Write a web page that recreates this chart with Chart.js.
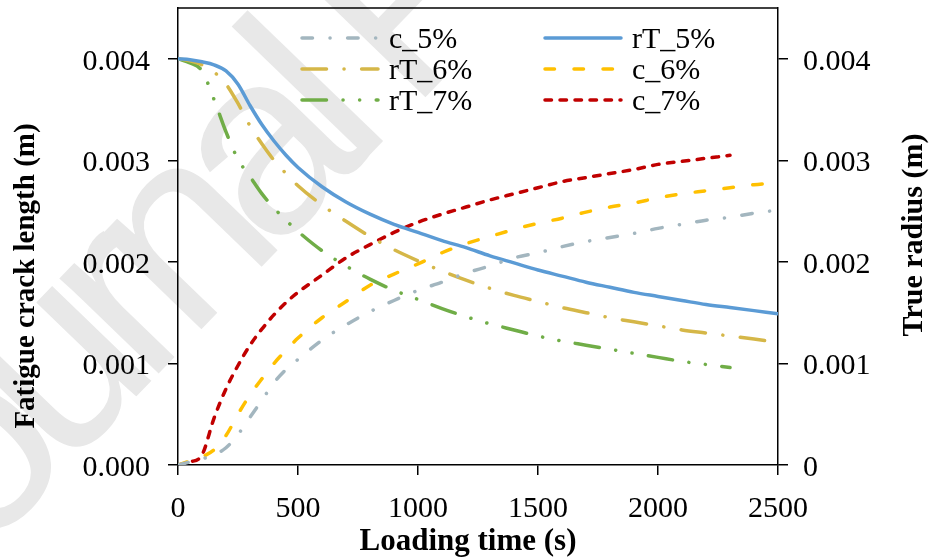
<!DOCTYPE html>
<html>
<head>
<meta charset="utf-8">
<script src="https://cdn.jsdelivr.net/npm/chart.js@4.4.0/dist/chart.umd.min.js"></script>
<style>
  html, body { margin: 0; padding: 0; background: #fff; }
  #wrap { width: 930px; height: 559px; }
</style>
</head>
<body>
<div id="wrap"><canvas id="chart" width="930" height="559"></canvas></div>
<script>
// loading time (s), shared by all series
const times = [0, 50, 100, 150, 200, 250, 300, 350, 400, 450, 500, 600, 700, 800, 900, 1000,
  1100, 1200, 1300, 1400, 1500, 1600, 1700, 1800, 1900, 2000, 2100, 2200, 2300, 2400, 2500];

const c5 = [0, 0.00003, 0.00006, 0.0001, 0.00017, 0.0003, 0.00047, 0.00064, 0.00081, 0.00094, 0.00104,
  0.00123, 0.00138, 0.00151, 0.00162, 0.00172, 0.0018, 0.00189, 0.00196, 0.00204, 0.00209,
  0.00215, 0.0022, 0.00224, 0.00228, 0.00233, 0.00237, 0.00241, 0.00244, 0.00248, 0.00251];
const rT5 = [0.004, 0.00399, 0.00397, 0.00394, 0.00388, 0.00375, 0.00354, 0.00335, 0.00319, 0.00305, 0.00293,
  0.00274, 0.00259, 0.00247, 0.00237, 0.00229, 0.00221, 0.00214, 0.00206, 0.00199, 0.00192,
  0.00186, 0.0018, 0.00175, 0.0017, 0.00166, 0.00162, 0.00158, 0.00155, 0.00152, 0.00149];
const rT6 = [0.004, 0.00398, 0.00394, 0.00387, 0.00375, 0.00356, 0.00334, 0.00316, 0.003, 0.00287, 0.00275,
  0.00256, 0.0024, 0.00225, 0.00212, 0.00201, 0.00191, 0.00182, 0.00174, 0.00167, 0.00161,
  0.00155, 0.0015, 0.00145, 0.00141, 0.00137, 0.00133, 0.0013, 0.00127, 0.00124, 0.00121];
const c6 = [0, 0.00004, 0.00008, 0.00015, 0.00029, 0.0005, 0.00069, 0.00085, 0.001, 0.00113, 0.00125,
  0.00145, 0.00161, 0.00177, 0.00188, 0.00198, 0.00209, 0.00218, 0.00225, 0.00232, 0.00238,
  0.00243, 0.00249, 0.00254, 0.00258, 0.00263, 0.00267, 0.0027, 0.00273, 0.00276, 0.00278];
const rT7 = [0.004, 0.00396, 0.00388, 0.0036, 0.00328, 0.00301, 0.00284, 0.00267, 0.00253, 0.00241, 0.0023,
  0.00211, 0.00196, 0.00183, 0.00172, 0.00163, 0.00154, 0.00146, 0.00139, 0.00133, 0.00127,
  0.00122, 0.00118, 0.00114, 0.0011, 0.00106, 0.00102, 0.00099, 0.00096, null, null];
const c7 = [0, 0.00003, 0.0001, 0.00046, 0.00075, 0.00098, 0.00118, 0.00134, 0.00148, 0.0016, 0.0017,
  0.00187, 0.00204, 0.00217, 0.00229, 0.00239, 0.00247, 0.00254, 0.00261, 0.00267, 0.00273,
  0.00279, 0.00283, 0.00287, 0.00291, 0.00296, 0.00299, 0.00302, 0.00305, null, null];

const xTicks = [0, 500, 1000, 1500, 2000, 2500];
const yTicks = [0, 0.001, 0.002, 0.003, 0.004];
const yLabelsLeft = ['0.000', '0.001', '0.002', '0.003', '0.004'];
const yLabelsRight = ['0', '0.001', '0.002', '0.003', '0.004'];

const SERIF = '"Liberation Serif", "Times New Roman", serif';

function pts(vals) {
  const out = [];
  vals.forEach((v, i) => { if (v !== null) out.push({ x: times[i], y: v }); });
  return out;
}

function line(label, vals, color, dash) {
  return {
    label: label,
    data: pts(vals),
    borderColor: color,
    borderWidth: 3.5,
    borderDash: dash,
    borderCapStyle: 'round',
    pointRadius: 0,
    fill: false,
    cubicInterpolationMode: 'monotone',
    yAxisID: 'y'
  };
}

// order = legend order (two columns, row by row)
const datasets = [
  line('c_5%', c5, '#a3b6bf', [10.5, 17.5, 0.1, 17.5]),
  line('rT_5%', rT5, '#5b9bd5', []),
  line('rT_6%', rT6, '#d5b748', [24.5, 17.5, 0.1, 17.5]),
  line('c_6%', c6, '#ffc000', [9.5, 19.5]),
  line('rT_7%', rT7, '#70ad47', [24.5, 16.5, 0.1, 16.5, 0.1, 16.5]),
  line('c_7%', c7, '#c00000', [6.5, 8.5])
];

// faint "Journal Pre-proof" stamp behind the plot
const watermark = {
  id: 'watermark',
  beforeDraw(chart) {
    const ctx = chart.ctx;
    ctx.save();
    ctx.fillStyle = '#fff';
    ctx.fillRect(0, 0, chart.width, chart.height);
    ctx.translate(-93, 634);
    ctx.rotate(-46 * Math.PI / 180);
    ctx.font = '260px "Liberation Sans", Arial, sans-serif';
    ctx.letterSpacing = '-25px';
    ctx.fillStyle = '#e8e8e8';
    ctx.textBaseline = 'alphabetic';
    ctx.fillText('Journal Pre-proof', 0, 0);
    ctx.restore();
  }
};

// frame top edge, legend, axis titles
const decor = {
  id: 'decor',
  afterDraw(chart) {
    const ctx = chart.ctx;
    const a = chart.chartArea;
    ctx.save();
    ctx.strokeStyle = '#000';
    ctx.lineWidth = 1.5;
    ctx.beginPath();
    ctx.moveTo(a.left, a.top);
    ctx.lineTo(a.right, a.top);
    ctx.stroke();

    // legend
    const colLine = [302, 545];
    const rowY = [38, 69, 100];
    ctx.font = '30px ' + SERIF;
    ctx.textBaseline = 'middle';
    ctx.fillStyle = '#000';
    chart.data.datasets.forEach((ds, i) => {
      const x0 = colLine[i % 2];
      const y = rowY[Math.floor(i / 2)];
      ctx.save();
      ctx.strokeStyle = ds.borderColor;
      ctx.lineWidth = ds.borderWidth;
      ctx.lineCap = 'round';
      ctx.setLineDash(ds.borderDash);
      ctx.beginPath();
      ctx.moveTo(x0, y);
      ctx.lineTo(x0 + 76, y);
      ctx.stroke();
      ctx.restore();
      ctx.fillText(ds.label, x0 + 87, y + 2);
    });

    // axis titles
    ctx.textAlign = 'center';
    ctx.textBaseline = 'middle';
    ctx.font = 'bold 31px ' + SERIF;
    ctx.fillText('Loading time (s)', 468, 542);
    ctx.font = 'bold 29px ' + SERIF;
    ctx.save();
    ctx.translate(27, 276);
    ctx.rotate(-Math.PI / 2);
    ctx.fillText('Fatigue crack length (m)', 0, 0);
    ctx.restore();
    ctx.font = 'bold 30px ' + SERIF;
    ctx.save();
    ctx.translate(914, 235);
    ctx.rotate(-Math.PI / 2);
    ctx.fillText('True radius (m)', 0, 0);
    ctx.restore();
    ctx.restore();
  }
};

const tickFont = { family: SERIF, size: 30 };

function noPad(s) {
  s.paddingTop = 0;
  s.paddingBottom = 0;
}

function yAxis(position, labels, width, pad) {
  return {
    type: 'linear',
    position: position,
    min: 0,
    max: 0.0045,
    afterBuildTicks: s => { s.ticks = yTicks.map(v => ({ value: v })); },
    afterFit: s => { s.width = width; noPad(s); },
    ticks: {
      font: tickFont,
      color: '#000',
      padding: pad,
      labelOffset: 3,
      callback: (v) => labels[yTicks.findIndex(t => Math.abs(t - v) < 1e-9)]
    },
    grid: { drawOnChartArea: false, drawTicks: true, tickLength: 10, color: '#000', lineWidth: 1.5 },
    border: { display: true, color: '#000', width: 1.5 }
  };
}

new Chart(document.getElementById('chart'), {
  type: 'line',
  data: { datasets: datasets },
  options: {
    responsive: false,
    animation: false,
    layout: { padding: { top: 8, left: 0, right: 0, bottom: 0 } },
    plugins: { legend: { display: false }, tooltip: { enabled: false } },
    scales: {
      x: {
        type: 'linear',
        min: 0,
        max: 2500,
        afterBuildTicks: s => { s.ticks = xTicks.map(v => ({ value: v })); },
        afterFit: s => { s.height = 94; s.paddingLeft = 0; s.paddingRight = 0; },
        ticks: {
          font: tickFont, color: '#000', padding: 16, maxRotation: 0, autoSkip: false,
          callback: v => String(v)
        },
        grid: { drawOnChartArea: false, drawTicks: true, tickLength: 10, color: '#000', lineWidth: 1.5 },
        border: { display: true, color: '#000', width: 1.5 }
      },
      y: yAxis('left', yLabelsLeft, 178, 18),
      y2: yAxis('right', yLabelsRight, 152, 15)
    }
  },
  plugins: [watermark, decor]
});
</script>
</body>
</html>
